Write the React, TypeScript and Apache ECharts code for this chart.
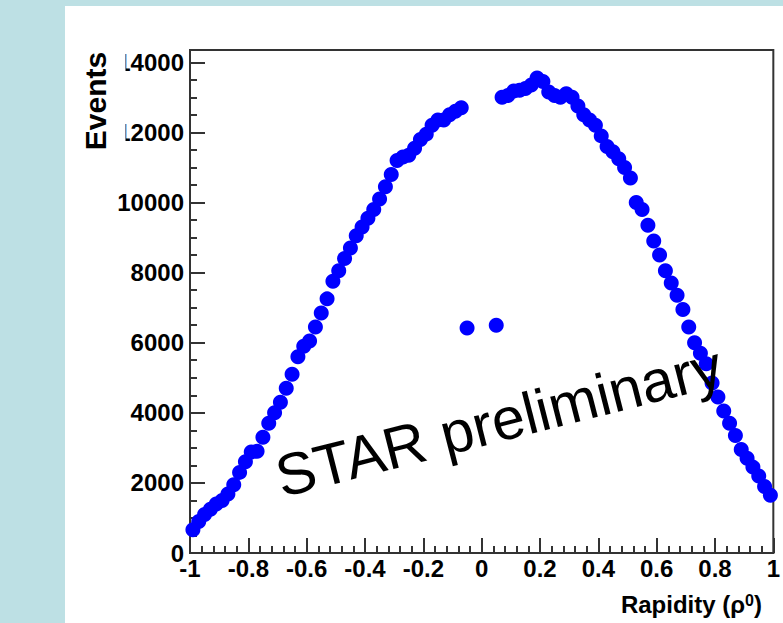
import React, { useEffect, useRef } from "react";
import * as echarts from "echarts";

// Rapidity bin centres and event counts
const leftRapidity = [
  -0.99, -0.97, -0.95, -0.93, -0.91, -0.89, -0.87, -0.85, -0.83, -0.81,
  -0.79, -0.77, -0.75, -0.73, -0.71, -0.69, -0.67, -0.65, -0.63, -0.61,
  -0.59, -0.57, -0.55, -0.53, -0.51, -0.49, -0.47, -0.45, -0.43, -0.41,
  -0.39, -0.37, -0.35, -0.33, -0.31, -0.29, -0.27, -0.25, -0.23, -0.21,
  -0.19, -0.17, -0.15, -0.13, -0.11, -0.09, -0.07,
];
const leftEvents = [
  660, 900, 1100, 1250, 1400, 1500, 1680, 1950, 2300, 2600,
  2880, 2900, 3300, 3700, 4000, 4300, 4700, 5100, 5600, 5900,
  6050, 6450, 6850, 7250, 7750, 8050, 8400, 8700, 9050, 9300,
  9550, 9800, 10100, 10450, 10800, 11200, 11300, 11350, 11550, 11800,
  11950, 12200, 12350, 12350, 12500, 12600, 12700,
];
const centreRapidity = [-0.05, 0.05];
const centreEvents = [6420, 6500];
const rightRapidity = [
  0.07, 0.09, 0.11, 0.13, 0.15, 0.17, 0.19, 0.21, 0.23, 0.25,
  0.27, 0.29, 0.31, 0.33, 0.35, 0.37, 0.39, 0.41, 0.43, 0.45,
  0.47, 0.49, 0.51, 0.53, 0.55, 0.57, 0.59, 0.61, 0.63, 0.65,
  0.67, 0.69, 0.71, 0.73, 0.75, 0.77, 0.79, 0.81, 0.83, 0.85,
  0.87, 0.89, 0.91, 0.93, 0.95, 0.97, 0.99,
];
const rightEvents = [
  13000, 13050, 13180, 13200, 13250, 13350, 13550, 13450, 13150, 13050,
  13000, 13100, 13000, 12750, 12500, 12350, 12200, 11900, 11600, 11450,
  11250, 11000, 10700, 10000, 9800, 9350, 8900, 8500, 8050, 7700,
  7350, 6950, 6450, 6000, 5700, 5400, 4850, 4450, 4050, 3700,
  3350, 2950, 2700, 2450, 2200, 1900, 1650,
];

const xTitle = "Rapidity (ρ";
const yTitle = "Events";
const watermark = "STAR preliminary";

const FONT = "'Liberation Sans', Arial, Helvetica, sans-serif";
const AXIS_COLOR = "#333333";

export default function App() {
  const ref = useRef<HTMLDivElement>(null);

  useEffect(() => {
    if (!ref.current) return;
    const chart = echarts.init(ref.current, undefined, { renderer: "svg" });

    const pts: number[][] = [];
    leftRapidity.forEach((x, i) => pts.push([x, leftEvents[i]]));
    centreRapidity.forEach((x, i) => pts.push([x, centreEvents[i]]));
    rightRapidity.forEach((x, i) => pts.push([x, rightEvents[i]]));

    const tickLine = { color: AXIS_COLOR, width: 2 };

    chart.setOption({
      animation: false,
      backgroundColor: "transparent",
      grid: {
        left: 190,
        top: 50,
        right: 5,
        bottom: 70,
        show: true,
        borderColor: AXIS_COLOR,
        borderWidth: 2,
        backgroundColor: "transparent",
      },
      xAxis: [
        {
          type: "value",
          min: -1,
          max: 1,
          interval: 0.2,
          position: "bottom",
          axisLine: { show: true, onZero: false, lineStyle: tickLine },
          axisTick: { show: true, inside: true, length: 15, lineStyle: tickLine },
          splitLine: { show: false },
          axisLabel: {
            show: true,
            margin: 3,
            fontSize: 24,
            fontWeight: "bold",
            fontFamily: FONT,
            color: "#000",
            formatter: (v: number) => String(Math.round(v * 10) / 10),
          },
        },
        {
          type: "value",
          min: -1,
          max: 1,
          interval: 0.04,
          position: "bottom",
          axisLine: { show: false, onZero: false },
          axisTick: { show: true, inside: true, length: 7, lineStyle: tickLine },
          splitLine: { show: false },
          axisLabel: { show: false },
        },
      ],
      yAxis: [
        {
          type: "value",
          min: 0,
          max: 14350,
          interval: 2000,
          position: "left",
          axisLine: { show: true, onZero: false, lineStyle: tickLine },
          axisTick: { show: true, inside: true, length: 15, lineStyle: tickLine },
          splitLine: { show: false },
          axisLabel: {
            show: true,
            margin: 6,
            fontSize: 24,
            fontWeight: "bold",
            fontFamily: FONT,
            color: "#000",
            showMaxLabel: false,
            formatter: (v: number) => (v % 2000 === 0 ? String(v) : ""),
          },
        },
        {
          type: "value",
          min: 0,
          max: 14350,
          interval: 500,
          position: "left",
          axisLine: { show: false, onZero: false },
          axisTick: { show: true, inside: true, length: 7, lineStyle: tickLine },
          splitLine: { show: false },
          axisLabel: { show: false },
        },
      ],
      series: [
        {
          type: "scatter",
          xAxisIndex: 0,
          yAxisIndex: 0,
          symbol: "circle",
          symbolSize: 15,
          itemStyle: { color: "#0000ff", opacity: 1 },
          data: pts,
          z: 3,
        },
      ],
      graphic: [
        {
          type: "rect",
          z: 50,
          shape: { x: 100, y: 50, width: 25.5, height: 95 },
          style: { fill: "#ffffff" },
        },
        {
          type: "text",
          z: 60,
          x: 95,
          y: 101,
          rotation: Math.PI / 2,
          style: {
            text: yTitle,
            fontSize: 30,
            fontWeight: "bold",
            fontFamily: FONT,
            fill: "#000",
            align: "center",
            verticalAlign: "middle",
          },
        },
        {
          type: "text",
          z: 60,
          x: 762,
          y: 604,
          style: {
            text: "{a|" + xTitle + "}{s|0}{a|)}",
            align: "right",
            verticalAlign: "middle",
            fill: "#000",
            rich: {
              a: { fontSize: 24, fontWeight: "bold", fontFamily: FONT, fill: "#000" },
              s: { fontSize: 16, fontWeight: "bold", fontFamily: FONT, fill: "#000", verticalAlign: "top" },
            },
          },
        },
        {
          type: "text",
          z: 100,
          x: 277,
          y: 478,
          rotation: 0.25,
          style: {
            text: watermark,
            fontSize: 59,
            fontFamily: FONT,
            fill: "#000",
            align: "left",
            verticalAlign: "middle",
          },
        },
      ],
    });

    return () => chart.dispose();
  }, []);

  return (
    <div
      style={{
        position: "fixed",
        left: 0,
        top: 0,
        width: 783,
        height: 623,
        background: "#bde0e4",
        overflow: "hidden",
      }}
    >
      <div
        style={{
          position: "absolute",
          left: 65,
          top: 6,
          width: 718,
          height: 617,
          background: "#ffffff",
        }}
      />
      <div
        ref={ref}
        style={{ position: "absolute", left: 0, top: 0, width: 783, height: 623 }}
      />
    </div>
  );
}
